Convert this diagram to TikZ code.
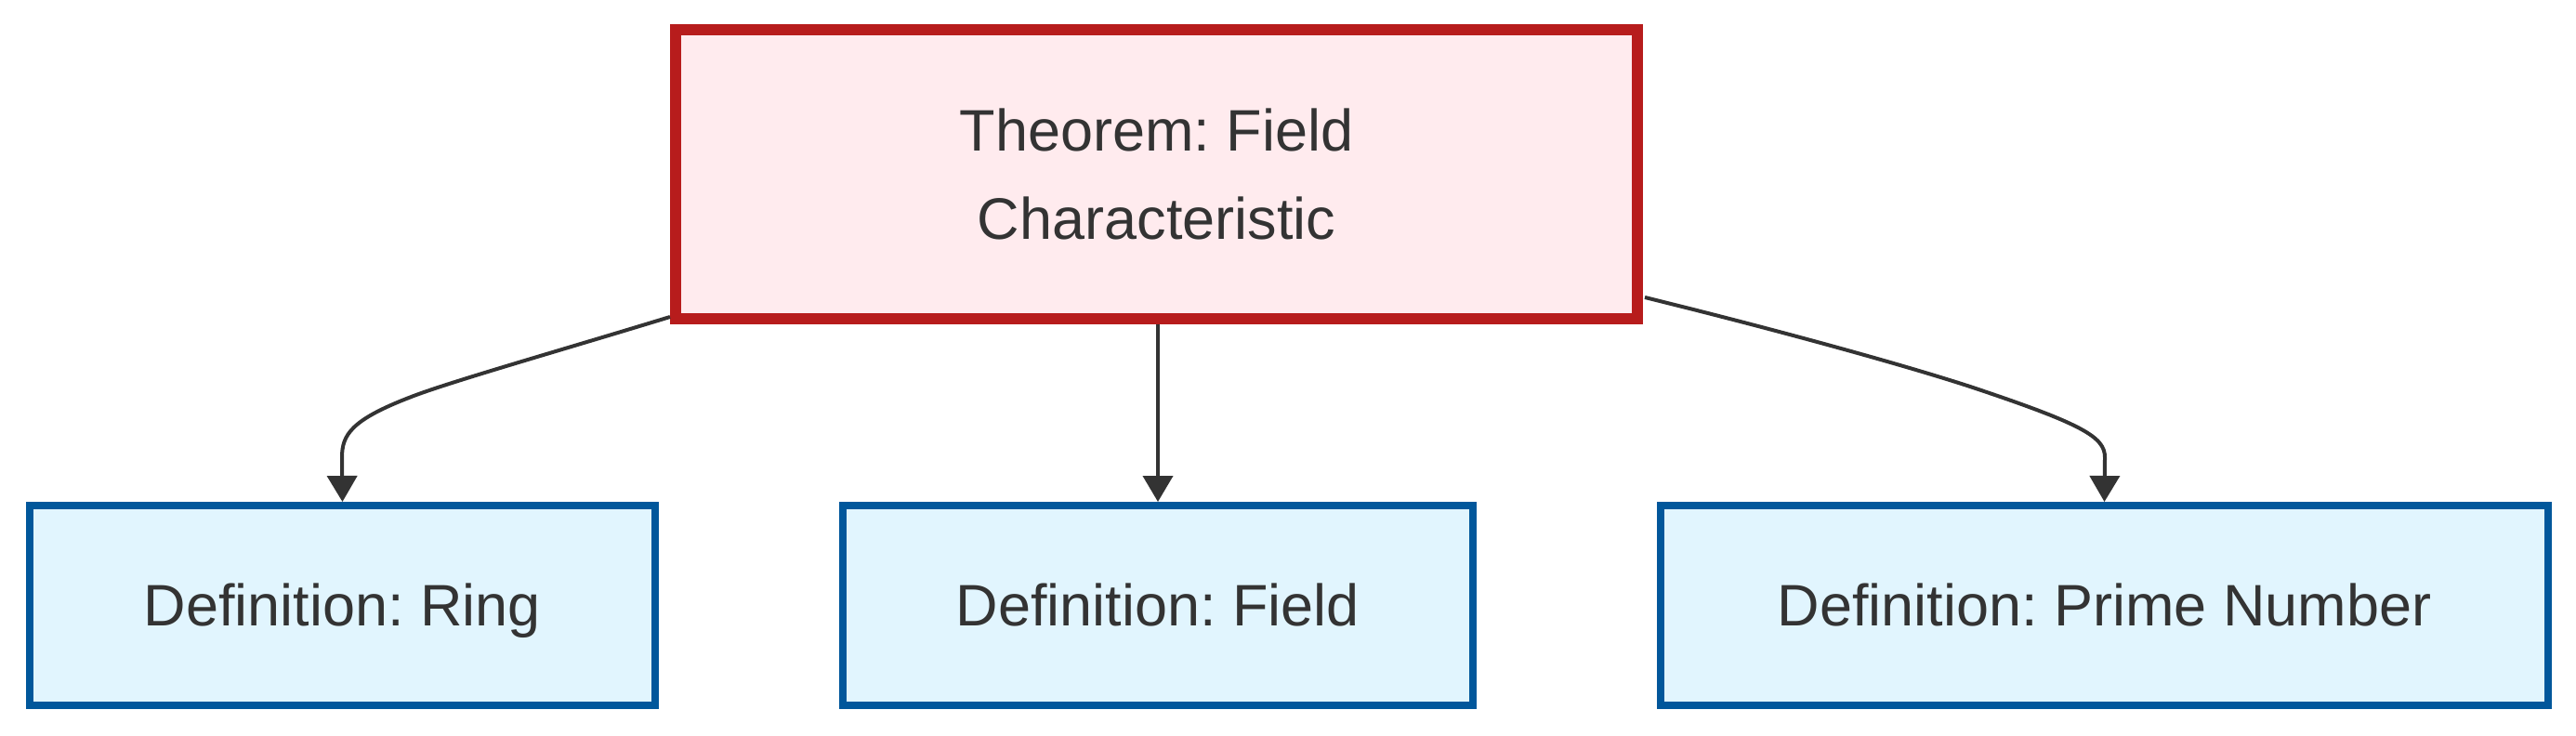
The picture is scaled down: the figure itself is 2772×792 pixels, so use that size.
\documentclass[tikz,border=0pt]{standalone}
\usepackage{fontspec}
\setmainfont{Liberation Sans}
\usetikzlibrary{arrows.meta,calc}
\definecolor{txt}{HTML}{333333}
\definecolor{thfill}{HTML}{FFEBEE}
\definecolor{thdraw}{HTML}{B71C1C}
\definecolor{dffill}{HTML}{E1F5FE}
\definecolor{dfdraw}{HTML}{01579B}
\definecolor{edge}{HTML}{333333}
\tikzset{
  thbox/.style={draw=thdraw, fill=thfill, line width=6pt, text=txt, align=center,
    font=\fontsize{31.5}{47.5}\selectfont\frenchspacing, inner sep=0pt},
  dfbox/.style={draw=dfdraw, fill=dffill, line width=4pt, text=txt, align=center,
    font=\fontsize{31.5}{40}\selectfont\frenchspacing, inner sep=0pt,
    text height=28.5pt, text depth=6.7pt},
  conn/.style={draw=edge, line width=2pt, -{Triangle[length=14pt,width=16pt]}}
}
\begin{document}
\begin{tikzpicture}[x=0.5pt,y=-0.5pt]
\useasboundingbox[fill=white] (0,0) rectangle (2772,792);
\node[thbox, minimum width=517.5pt, minimum height=155.5pt] (th) at (1244.5,187.5)
  {Theorem: Field\\Characteristic};
\node[dfbox, minimum width=336.5pt, minimum height=107.5pt] (ring) at (368.5,651.5)
  {Definition: Ring};
\node[dfbox, minimum width=339pt, minimum height=107.5pt] (field) at (1246,651.5)
  {Definition: Field};
\node[dfbox, minimum width=477.5pt, minimum height=107.5pt] (prime) at (2264.5,651.5)
  {Definition: Prime Number};
\coordinate (ls) at (721,341);
\coordinate (rs) at (1770,320);
\draw[conn] (ls) .. controls (600,378) and (480,412) .. (440,428) .. controls (378,452) and (368,468) .. (368,492) -- (ring.north);
\draw[conn] (th.south -| field.north) -- (field.north);
\draw[conn] (rs) .. controls (1900,352) and (2040,390) .. (2120,416) .. controls (2240,456) and (2265,470) .. (2265,492) -- (prime.north);
\end{tikzpicture}
\end{document}
